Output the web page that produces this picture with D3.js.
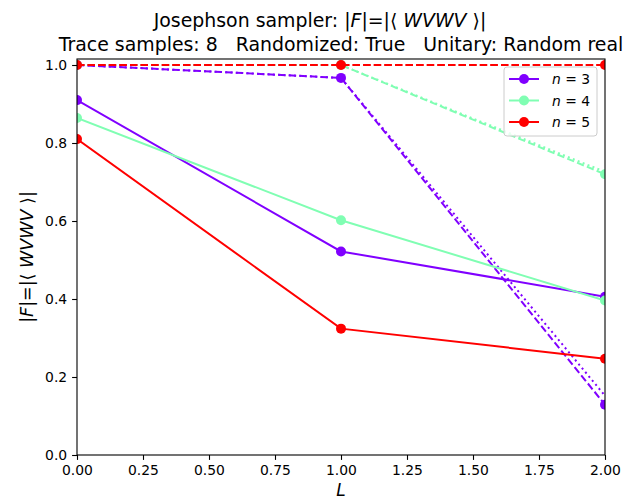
<!DOCTYPE html>
<html>
<head>
<meta charset="utf-8">
<script src="https://cdn.jsdelivr.net/npm/d3@7"></script>
<style>
  body { margin: 0; background: #fff; }
  text { font-family: "DejaVu Sans", sans-serif; fill: #000; }
</style>
</head>
<body>
<svg id="chart" width="637" height="502"></svg>
<script>
// values
var Ls = [0, 1, 2];
var seriesNames = ['3', '4', '5'];
var seriesColors = ['#8000ff', '#80feb3', '#ff0000'];
var solidVals = [[0.910, 0.522, 0.406], [0.864, 0.602, 0.396], [0.810, 0.324, 0.247]];
var dashedVals = [[1.0, 0.967, 0.129], [1.0, 1.0, 0.720], [1.0, 1.0, 1.0]];
var dottedVals = [[1.0, 0.967, 0.152], [1.0, 1.0, 0.726], [1.0, 1.0, 1.0]];
var xTicks = [0, 0.25, 0.5, 0.75, 1.0, 1.25, 1.5, 1.75, 2.0];
var yTicks = [0, 0.2, 0.4, 0.6, 0.8, 1.0];

(function () {
    'use strict';
    var svg = d3.select('#chart');
    var left = 77, right = 605, top = 59, bottom = 455;
    var x = d3.scaleLinear().domain([0, 2]).range([left, right]);
    var y = d3.scaleLinear().domain([0, 1.0154]).range([bottom, top]);

    svg.append('clipPath').attr('id', 'clip').append('rect')
        .attr('x', left).attr('y', top).attr('width', right - left).attr('height', bottom - top);

    var plot = svg.append('g').attr('clip-path', 'url(#clip)');
    var line = d3.line()
        .x(function (d, i) { return x(Ls[i]); })
        .y(function (d) { return y(d); });

    seriesNames.forEach(function (name, s) {
        var col = seriesColors[s];
        plot.append('path').attr('d', line(solidVals[s])).attr('fill', 'none')
            .attr('stroke', col).attr('stroke-width', 2);
        plot.append('path').attr('d', line(dashedVals[s])).attr('fill', 'none')
            .attr('stroke', col).attr('stroke-width', 2).attr('stroke-dasharray', '7.4,3.2');
        plot.append('path').attr('d', line(dottedVals[s])).attr('fill', 'none')
            .attr('stroke', col).attr('stroke-width', 2).attr('stroke-dasharray', '2,3.3');
        [solidVals[s], dashedVals[s]].forEach(function (vals) {
            plot.selectAll(null).data(vals).enter().append('circle')
                .attr('cx', function (d, i) { return x(Ls[i]); })
                .attr('cy', function (d) { return y(d); })
                .attr('r', 5).attr('fill', col);
        });
    });

    // axes
    var xAxis = svg.append('g').attr('transform', 'translate(0,' + bottom + ')')
        .call(d3.axisBottom(x).tickValues(xTicks).tickFormat(d3.format('.2f')).tickSize(4.9).tickPadding(4.9));
    var yAxis = svg.append('g').attr('transform', 'translate(' + left + ',0)')
        .call(d3.axisLeft(y).tickValues(yTicks).tickFormat(d3.format('.1f')).tickSize(4.9).tickPadding(4.9));
    [xAxis, yAxis].forEach(function (a) {
        a.select('.domain').remove();
        a.selectAll('text').attr('font-family', 'DejaVu Sans').attr('font-size', 13.9).attr('fill', '#000');
        a.selectAll('line').attr('stroke', '#000').attr('stroke-width', 1.1);
    });
    svg.append('rect').attr('x', left).attr('y', top).attr('width', right - left).attr('height', bottom - top)
        .attr('fill', 'none').attr('stroke', '#000').attr('stroke-width', 1.1);

    // titles: first line centred on the figure, second on the axes
    var t1 = svg.append('text').attr('x', 320).attr('y', 27).attr('text-anchor', 'middle').attr('font-size', 18.9);
    t1.append('tspan').text('Josephson sampler: |');
    t1.append('tspan').attr('font-style', 'italic').text('F');
    t1.append('tspan').text('|=|\u27E8 ');
    t1.append('tspan').attr('font-style', 'italic').text('WVWV');
    t1.append('tspan').text(' \u27E9|');
    svg.append('text').attr('x', x(1)).attr('y', 51).attr('text-anchor', 'middle').attr('font-size', 18.9)
        .attr('xml:space', 'preserve').style('white-space', 'pre')
        .text('Trace samples: 8   Randomized: True   Unitary: Random real');

    svg.append('text').attr('x', x(1)).attr('y', 496).attr('text-anchor', 'middle')
        .attr('font-size', 17).attr('font-style', 'italic').text('L');

    var yl = svg.append('text').attr('transform', 'translate(33,' + ((top + bottom) / 2) + ') rotate(-90)')
        .attr('text-anchor', 'middle').attr('font-size', 17.5);
    yl.append('tspan').text('|');
    yl.append('tspan').attr('font-style', 'italic').text('F');
    yl.append('tspan').text('|=|\u27E8 ');
    yl.append('tspan').attr('font-style', 'italic').text('WVWV');
    yl.append('tspan').text(' \u27E9|');

    // legend
    var lg = svg.append('g');
    lg.append('rect').attr('x', 504).attr('y', 67).attr('width', 93).attr('height', 69).attr('rx', 3)
        .attr('fill', '#fff').attr('fill-opacity', 0.8).attr('stroke', '#ccc').attr('stroke-width', 1);
    seriesNames.forEach(function (name, s) {
        var yy = 79 + s * 21.5;
        lg.append('line').attr('x1', 509).attr('x2', 539).attr('y1', yy).attr('y2', yy)
            .attr('stroke', seriesColors[s]).attr('stroke-width', 2);
        lg.append('circle').attr('cx', 524).attr('cy', yy).attr('r', 5).attr('fill', seriesColors[s]);
        var tx = lg.append('text').attr('x', 552).attr('y', yy + 5).attr('font-size', 13.9);
        tx.append('tspan').attr('font-style', 'italic').text('n');
        tx.append('tspan').text(' = ' + name);
    });
})();
</script>
</body>
</html>
